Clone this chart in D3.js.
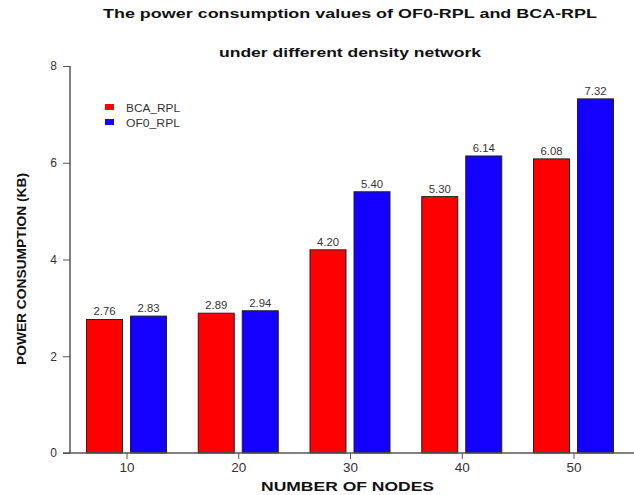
<!DOCTYPE html>
<html><head><meta charset="utf-8">
<script src="https://cdn.jsdelivr.net/npm/d3@7"></script>
<style>body{margin:0;background:#fff;} svg{display:block;font-family:"Liberation Sans",Arial,sans-serif;}</style>
</head><body>
<svg id="c" width="634" height="495"></svg>
<script>
const categories = [10, 20, 30, 40, 50];
const bcaValues = [2.76, 2.89, 4.20, 5.30, 6.08];
const of0Values = [2.83, 2.94, 5.40, 6.14, 7.32];
const seriesNames = ["BCA_RPL", "OF0_RPL"];
const seriesColors = ["#ff0000", "#1400ff"];
const yTicks = [0, 2, 4, 6, 8];
const titleLines = ["The power consumption values of OF0-RPL and BCA-RPL", "under different density network"];

const svg = d3.select("#c");
const y = d3.scaleLinear().domain([0, 8]).range([453, 66]);
const x = d3.scaleLinear().domain([10, 50]).range([126.5, 573.5]);
const barW = 36, gap = 8;

// title
const titleLen = [494, 262];
svg.selectAll("text.title").data(titleLines).enter().append("text")
  .attr("x", 350).attr("y", (d, i) => 17.5 + i * 39)
  .attr("text-anchor", "middle").attr("font-weight", "bold").attr("font-size", 13)
  .attr("textLength", (d, i) => titleLen[i]).attr("lengthAdjust", "spacingAndGlyphs")
  .attr("fill", "#111").text(d => d);

// bars
const series = [bcaValues, of0Values];
series.forEach((vals, s) => {
  const g = svg.append("g");
  g.selectAll("rect").data(categories).enter().append("rect")
    .attr("x", (c) => s === 0 ? x(c) - gap / 2 - barW : x(c) + gap / 2)
    .attr("y", (c, i) => y(vals[i]))
    .attr("width", barW)
    .attr("height", (c, i) => y(0) - y(vals[i]))
    .attr("fill", seriesColors[s]).attr("stroke", "#222").attr("stroke-width", 1);
  g.selectAll("text").data(categories).enter().append("text")
    .attr("x", (c) => s === 0 ? x(c) - gap / 2 - barW / 2 : x(c) + gap / 2 + barW / 2)
    .attr("y", (c, i) => y(vals[i]) - 4)
    .attr("text-anchor", "middle").attr("font-size", 10).attr("fill", "#333")
    .attr("textLength", 22).attr("lengthAdjust", "spacingAndGlyphs")
    .text((c, i) => vals[i].toFixed(2));
});

// y axis
const yAxis = svg.append("g").attr("transform", "translate(70,0)")
  .call(d3.axisLeft(y).tickValues(yTicks).tickSize(7).tickPadding(6).tickFormat(d3.format("d")));
yAxis.select(".domain").attr("stroke", "#555").attr("stroke-width", 1.5).attr("d", "M0,66V453");
yAxis.selectAll(".tick line").attr("stroke", "#555");
yAxis.selectAll("text").attr("font-size", 12).attr("fill", "#333").attr("font-family", "Liberation Sans, Arial, sans-serif");

// x axis
const xAxis = svg.append("g").attr("transform", "translate(0,453)")
  .call(d3.axisBottom(x).tickValues(categories).tickSize(6).tickPadding(4));
xAxis.select(".domain").attr("stroke", "#555").attr("stroke-width", 1.5).attr("d", "M63,0H634");
xAxis.selectAll(".tick line").attr("stroke", "#555");
xAxis.selectAll("text").attr("font-size", 12).attr("fill", "#333").attr("font-family", "Liberation Sans, Arial, sans-serif")
  .attr("textLength", 15).attr("lengthAdjust", "spacingAndGlyphs");

// axis titles
svg.append("text").attr("x", 347.5).attr("y", 491).attr("text-anchor", "middle")
  .attr("font-weight", "bold").attr("font-size", 13).attr("fill", "#111")
  .attr("textLength", 173).attr("lengthAdjust", "spacingAndGlyphs").text("NUMBER OF NODES");
svg.append("text").attr("transform", "translate(26,269) rotate(-90)").attr("text-anchor", "middle")
  .attr("font-weight", "bold").attr("font-size", 13).attr("fill", "#111")
  .attr("textLength", 192).attr("lengthAdjust", "spacingAndGlyphs").text("POWER CONSUMPTION (KB)");

// legend
const leg = svg.append("g");
seriesNames.forEach((n, i) => {
  leg.append("rect").attr("x", 105).attr("y", 104 + i * 15).attr("width", 9).attr("height", 6).attr("fill", seriesColors[i]);
  leg.append("text").attr("x", 126).attr("y", 111.5 + i * 15).attr("font-size", 10).attr("fill", "#333")
    .attr("textLength", 54).attr("lengthAdjust", "spacingAndGlyphs").text(n);
});
</script>
</body></html>
